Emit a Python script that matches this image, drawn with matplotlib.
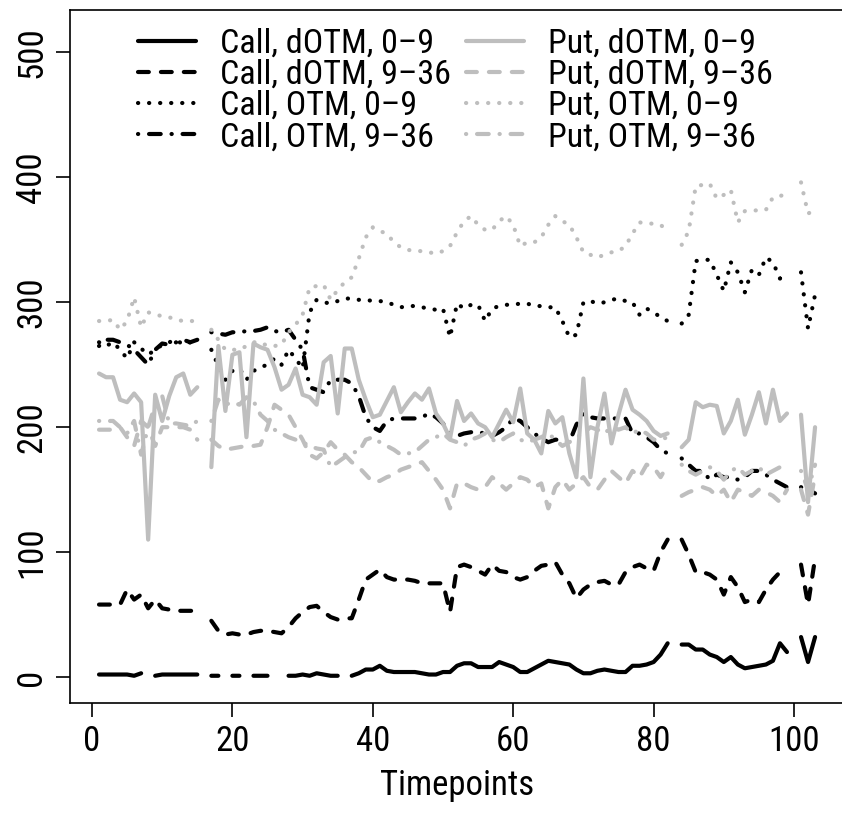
import numpy as np
import matplotlib
matplotlib.use("Agg")
import matplotlib.pyplot as plt
from matplotlib import font_manager as fm

N = np.nan
timepoints = list(range(1, 104))

call_dotm_0_9 = [2, 2, 2, 2, 2, 1, 3, N, 1, 2,
                 2, 2, 2, 2, 2, N, 1, 1, N, 1,
                 1, N, 1, 1, 1, N, N, 1, 1, 2,
                 1, 3, 2, 1, 1, N, 1, 3, 6, 6,
                 9, 5, 4, 4, 4, 4, 3, 2, 2, 4,
                 4, 9, 11, 11, 8, 8, 8, 12, 10, 8,
                 4, 4, 7, 10, 13, 12, 11, 10, 6, 3,
                 3, 5, 6, 5, 4, 4, 9, 9, 10, 12,
                 18, 27, N, 26, 26, 22, 22, 18, 16, 12,
                 16, 10, 7, 8, 9, 10, 13, 27, 20, N,
                 32, 12, 32]

call_dotm_9_36 = [58, 58, 58, 58, 70, 62, 66, 55, 62, 55,
                  54, 53, 53, 53, 53, N, 45, 37, 34, 35,
                  34, 34, 36, 37, 37, 36, 35, 40, 47, 52,
                  56, 57, 52, 48, 46, 47, 47, 62, 78, 82,
                  86, 80, 78, 78, 78, 77, 75, 75, 75, 75,
                  52, 88, 90, 88, 85, 82, 90, 85, 84, 80,
                  78, 80, 85, 89, 90, 92, 82, 75, 63, 70,
                  74, 76, 77, 74, 74, 84, 88, 90, 87, 85,
                  100, 110, N, 110, 98, 84, 84, 82, 78, 66,
                  80, 72, 60, 62, 60, 70, 78, 84, 86, N,
                  90, 58, 95]

call_otm_0_9 = [268, 265, 268, 262, 255, 268, 263, 258, 262, 266,
                268, 270, 266, 268, 271, N, 262, 249, 238, 245,
                247, 238, 245, 248, 250, 255, 250, 262, 255, 247,
                292, 302, 300, 299, 301, 303, 303, 302, 302, 301,
                301, 300, 298, 296, 297, 297, 296, 295, 294, 295,
                272, 299, 295, 298, 298, 285, 295, 297, 298, 298,
                299, 299, 297, 297, 296, 296, 285, 272, 274, 300,
                301, 299, 300, 302, 303, 301, 300, 290, 295, 292,
                288, 285, N, 283, 290, 333, 334, 334, 322, 309,
                332, 324, 308, 326, 322, 336, 332, 319, 320, N,
                324, 279, 306]

call_otm_9_36 = [265, 270, 270, 268, 266, 262, 256, 250, 262, 267,
                 266, 268, 270, 268, 270, N, 276, 275, 274, 276,
                 276, 277, 277, 278, 280, 277, 276, 278, 270, 262,
                 232, 230, 228, 238, 238, 238, 235, 225, 208, 200,
                 197, 205, 207, 207, 207, 207, 208, 211, 208, 203,
                 195, 193, 195, 196, 196, 195, 193, 196, 200, 207,
                 205, 200, 195, 191, 188, 190, 190, 188, 202, 211,
                 208, 207, 207, 207, 207, 207, 195, 195, 192, 188,
                 182, 179, N, 175, 170, 165, 165, 158, 162, 160,
                 160, 158, 160, 165, 165, 162, 158, 155, 152, N,
                 152, 150, 147]

put_dotm_0_9 = [243, 240, 240, 222, 220, 227, 220, 110, 226, 205,
                225, 240, 243, 226, 232, N, 168, 265, 213, 258,
                260, 192, 267, 264, 262, 248, 230, 234, 247, 226,
                224, 218, 252, 257, 211, 263, 263, 238, 222, 208,
                210, 221, 232, 212, 220, 227, 222, 231, 211, 203,
                191, 221, 205, 211, 203, 200, 192, 203, 214, 204,
                231, 195, 190, 179, 213, 203, 208, 179, 160, 239,
                160, 200, 227, 187, 210, 230, 214, 210, 205, 197,
                193, 195, N, 184, 190, 220, 216, 218, 217, 195,
                205, 222, 194, 210, 228, 203, 230, 205, 211, N,
                210, 140, 200]

put_dotm_9_36 = [198, 198, 198, 200, 192, 185, 205, 200, 185, 200,
                 200, 200, 200, 198, 190, N, 190, 185, 182, 183,
                 184, 185, 185, 186, 200, 218, 214, 210, 200, 190,
                 178, 175, 180, 188, 182, 178, 172, 168, 162, 156,
                 157, 160, 162, 166, 168, 170, 172, 165, 158, 150,
                 135, 155, 155, 152, 150, 152, 160, 155, 150, 155,
                 160, 158, 152, 155, 135, 152, 158, 150, 155, 160,
                 152, 150, 158, 165, 160, 155, 165, 160, 170, 168,
                 160, 170, N, 145, 148, 150, 152, 150, 145, 150,
                 140, 150, 148, 145, 150, 148, 145, 140, 150, N,
                 150, 130, 162]

put_otm_0_9 = [285, 285, 286, 278, 285, 304, 280, 292, 290, 289,
               288, 286, 285, 285, 285, N, 278, 270, 262, 262,
               262, 265, 268, 268, 265, 265, 266, 276, 282, 290,
               312, 313, 314, 302, 310, 316, 320, 335, 352, 360,
               357, 355, 348, 344, 342, 341, 341, 340, 339, 341,
               345, 356, 365, 369, 362, 358, 358, 365, 369, 362,
               345, 348, 348, 352, 362, 369, 365, 362, 352, 340,
               338, 336, 338, 340, 341, 345, 355, 364, 363, 363,
               362, 357, N, 346, 357, 393, 394, 395, 383, 386,
               390, 364, 373, 373, 374, 374, 384, 385, 387, N,
               396, 371, 374]

put_otm_9_36 = [205, 205, 205, 200, 195, 205, 178, 200, 218, 225,
                203, 203, 202, 201, 205, N, 205, 222, 218, 220,
                218, 224, 221, 210, 205, 198, 195, 192, 190, 188,
                185, 183, 182, 168, 172, 176, 180, 180, 190, 192,
                188, 185, 182, 178, 179, 180, 185, 190, 192, 195,
                190, 188, 185, 190, 192, 195, 190, 188, 192, 195,
                190, 188, 190, 192, 195, 190, 185, 188, 192, 195,
                200, 198, 195, 200, 198, 200, 195, 198, 195, 190,
                190, 192, N, 170, 165, 162, 165, 168, 165, 158,
                165, 168, 162, 165, 168, 162, 165, 168, 170, N,
                165, 150, 170]

labels = ["Call, dOTM, 0\u20139", "Call, dOTM, 9\u201336", "Call, OTM, 0\u20139", "Call, OTM, 9\u201336",
          "Put, dOTM, 0\u20139", "Put, dOTM, 9\u201336", "Put, OTM, 0\u20139", "Put, OTM, 9\u201336"]
xticks = [0, 20, 40, 60, 80, 100]
yticks = [0, 100, 200, 300, 400, 500]

# ---- font: prefer a narrow Helvetica-like face ----
names = {f.name for f in fm.fontManager.ttflist}
narrow = None
for cand in ["Liberation Sans Narrow", "Arial Narrow", "Nimbus Sans Narrow",
             "Roboto Condensed", "Open Sans Condensed"]:
    if cand in names:
        narrow = cand
        break
if narrow:
    fam = narrow
    FS_TICK, FS_LAB, FS_LEG = 25.0, 25.0, 24.5
else:
    fam = "Liberation Sans"
    FS_TICK, FS_LAB, FS_LEG = 21.5, 22.0, 21.0
plt.rcParams["font.family"] = [fam, "DejaVu Sans"]

W, H = 842, 815
fig = plt.figure(figsize=(W / 100, H / 100), dpi=100)
x0_px, ppu = 92.0, 7.02          # pixel of x=0, pixels per unit
xlim = (-3.08, 107.08)
left = x0_px + xlim[0] * ppu
right = x0_px + xlim[1] * ppu
ax = fig.add_axes([left / W, (H - 703) / H, (right - left) / W, (703 - 10) / H])

LW = 3.0
dotted = (0, (0.05, 2.6))
dashed = (0, (2.6, 2.9))
dashdot = (0, (0.05, 2.6, 2.8, 2.6))
series = [
    (call_dotm_0_9, "black", "-"),
    (call_dotm_9_36, "black", dashed),
    (call_otm_0_9, "black", dotted),
    (call_otm_9_36, "black", dashdot),
    (put_dotm_0_9, "#BEBEBE", "-"),
    (put_dotm_9_36, "#BEBEBE", dashed),
    (put_otm_0_9, "#BEBEBE", dotted),
    (put_otm_9_36, "#BEBEBE", dashdot),
]
x = np.array(timepoints)
handles = []
for (vals, col, ls), lab in zip(series, labels):
    h, = ax.plot(x, np.array(vals, dtype=float), color=col, linestyle=ls, linewidth=LW,
                 dash_capstyle="round", solid_capstyle="round", solid_joinstyle="round",
                 label=lab)
    handles.append(h)

ax.set_xlim(*xlim)
ax.set_ylim(-20.8, 534)
ax.set_xticks(xticks)
ax.set_yticks(yticks)
ax.tick_params(axis="both", direction="out", length=10, width=1.2, labelsize=FS_TICK, pad=6)
for lab in ax.get_yticklabels():
    lab.set_rotation(90)
    lab.set_va("center")
for s in ax.spines.values():
    s.set_linewidth(1.2)
ax.set_xlabel("Timepoints", fontsize=FS_LAB, labelpad=8)

# ---- legend: two columns placed at measured pixel positions ----
em = FS_LEG * 100 / 72.0
ROW1, PITCH = 43.5, 31.3
COLX = [138.0, 466.0]


def make_legends(spacing, top_px):
    legs = []
    for i, cx in enumerate(COLX):
        lg = fig.legend(handles=handles[4 * i:4 * i + 4], frameon=False, fontsize=FS_LEG,
                        handlelength=58 / em, handletextpad=24 / em, labelspacing=spacing,
                        borderpad=0, borderaxespad=0, loc="upper left",
                        bbox_to_anchor=(cx / W, 1 - top_px / H),
                        bbox_transform=fig.transFigure)
        legs.append(lg)
    return legs


def row_centres(legs):
    fig.canvas.draw()
    r = fig.canvas.get_renderer()
    ys = []
    for t in legs[0].get_texts():
        bb = t.get_window_extent(r)
        ys.append(H - (bb.y0 + bb.y1) / 2)
    return ys


spacing, top_px = 0.0, 20.0
legs = make_legends(spacing, top_px)
ys = row_centres(legs)
pitch = (ys[-1] - ys[0]) / 3.0
for lg in legs:
    lg.remove()
spacing = spacing + (PITCH - pitch) / em
legs = make_legends(spacing, top_px)
ys = row_centres(legs)
for lg in legs:
    lg.remove()
top_px = top_px + (ROW1 - ys[0])
legs = make_legends(spacing, top_px)

fig.savefig("out.png", dpi=100)
